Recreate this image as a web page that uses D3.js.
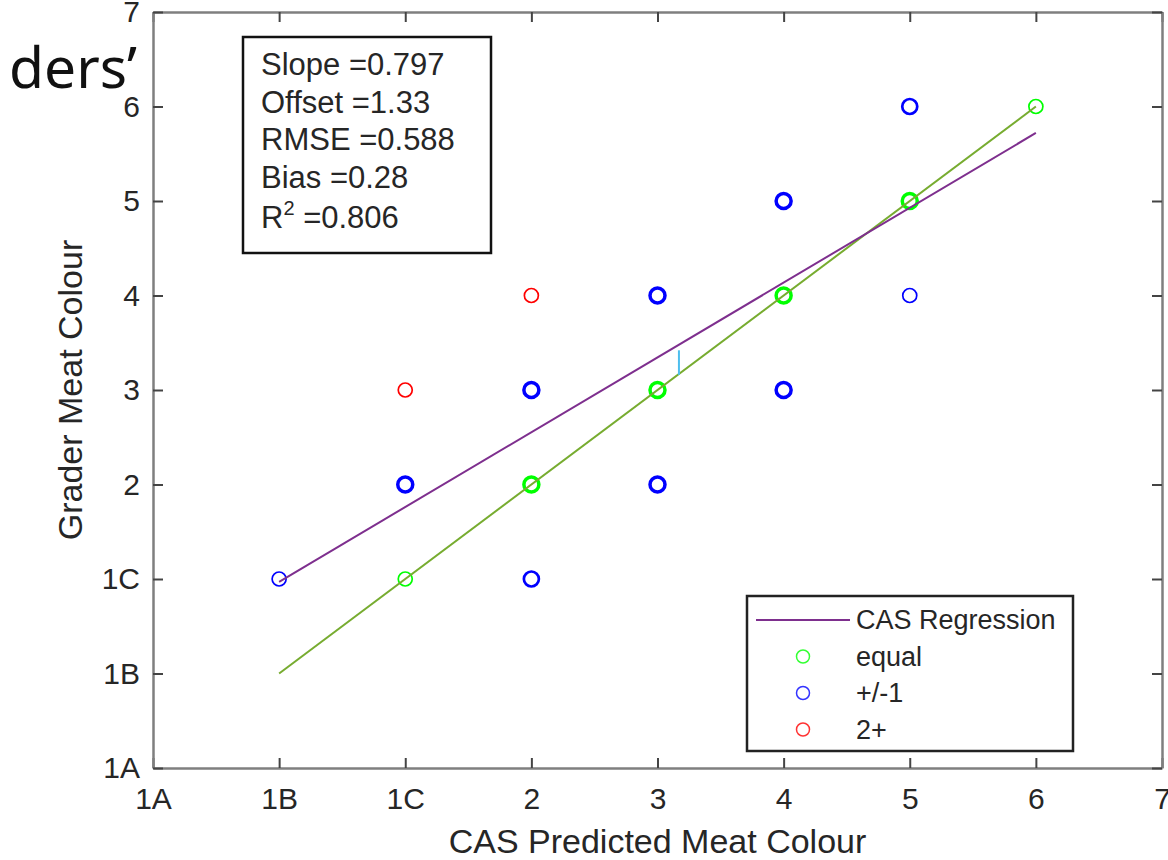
<!DOCTYPE html>
<html>
<head>
<meta charset="utf-8">
<script src="https://cdn.jsdelivr.net/npm/d3@7"></script>
<style>
    body { margin: 0; background: #fff; }
    svg { display: block; }
    text { font-family: "Liberation Sans", Arial, sans-serif; fill: #262626; }
</style>
</head>
<body>
<svg id="chart" width="1168" height="860"></svg>
<script>
// grade scale, shared by both axes
const grades = ['1A', '1B', '1C', '2', '3', '4', '5', '6', '7']

// [CAS predicted, grader, samples]  (samples > 1 = stacked markers)
const equalPoints = [
    ['1C', '1C', 1], ['2', '2', 3], ['3', '3', 3], ['4', '4', 3], ['5', '5', 3], ['6', '6', 1]
]
const offByOnePoints = [
    ['1B', '1C', 1], ['1C', '2', 3], ['2', '1C', 2], ['2', '3', 3], ['3', '2', 3],
    ['3', '4', 3], ['4', '3', 3], ['4', '5', 3], ['5', '4', 1], ['5', '6', 2]
]
const twoPlusPoints = [
    ['1C', '3', 1], ['2', '4', 1]
]

// regression fit drawn from 1B to 6 (grade index units)
const regressionX = [1, 7]
const regressionY = [1.97, 6.72]
// one-to-one reference line
const identityX = [1, 7]
const identityY = [1, 7]
// bias marker between the two lines
const biasX = [4.17, 4.17]
const biasY = [4.16, 4.42]

const stats = [
    ['Slope =0.797'], ['Offset =1.33'], ['RMSE =0.588'], ['Bias =0.28'], ['R', '2', ' =0.806']
]
const legendItems = [
    { label: 'CAS Regression', type: 'line', color: '#7e2f8e' },
    { label: 'equal', type: 'dot', color: '#00ff00' },
    { label: '+/-1', type: 'dot', color: '#0000ff' },
    { label: '2+', type: 'dot', color: '#ff0000' }
]

const plotLeft = 153, plotRight = 1162, plotTop = 12, plotBottom = 768
const svg = d3.select('#chart')

// slide title fragment behind the figure
svg.append('text')
    .attr('x', 9).attr('y', 88)
    .style('font-family', '"Noto Sans", "Open Sans", sans-serif')
    .style('font-size', '57px')
    .style('fill', '#111')
    .text('ders\u2019')

const x = d3.scaleLinear().domain([0, 8]).range([plotLeft, plotRight])
const y = d3.scaleLinear().domain([0, 8]).range([plotBottom, plotTop])
const gx = g => grades.indexOf(g)

// axes box with inward ticks on all sides
const axisColor = '#7f7f7f'
const fmt = i => grades[i]
const ticks = d3.range(0, 9)

svg.append('g')
    .attr('transform', `translate(0,${plotBottom})`)
    .call(d3.axisBottom(x).tickValues(ticks).tickFormat(fmt).tickSizeInner(-10).tickSizeOuter(0).tickPadding(20))
svg.append('g')
    .attr('transform', `translate(0,${plotTop})`)
    .call(d3.axisTop(x).tickValues(ticks).tickFormat('').tickSizeInner(-10).tickSizeOuter(0))
svg.append('g')
    .attr('transform', `translate(${plotLeft},0)`)
    .call(d3.axisLeft(y).tickValues(ticks).tickFormat(fmt).tickSizeInner(-10).tickSizeOuter(0).tickPadding(13))
svg.append('g')
    .attr('transform', `translate(${plotRight},0)`)
    .call(d3.axisRight(y).tickValues(ticks).tickFormat('').tickSizeInner(-10).tickSizeOuter(0))

svg.selectAll('.domain').attr('stroke', axisColor).attr('stroke-width', 2.5)
svg.selectAll('.tick line').attr('stroke', '#444').attr('stroke-width', 2)
svg.selectAll('.tick text').style('font-size', '30px').attr('fill', '#262626')

// axis titles
svg.append('text')
    .attr('x', (plotLeft + plotRight) / 2).attr('y', 853)
    .attr('text-anchor', 'middle')
    .style('font-size', '34px')
    .text('CAS Predicted Meat Colour')
svg.append('text')
    .attr('transform', `translate(82,${(plotTop + plotBottom) / 2}) rotate(-90)`)
    .attr('text-anchor', 'middle')
    .style('font-size', '34px')
    .text('Grader Meat Colour')

// markers
const plot = svg.append('g')
const drawPoints = (pts, color) => {
    plot.selectAll(null).data(pts).enter().append('circle')
        .attr('cx', d => x(gx(d[0])))
        .attr('cy', d => y(gx(d[1])))
        .attr('r', d => d[2] > 1 ? 7.5 : 7)
        .attr('fill', 'none')
        .attr('stroke', color)
        .attr('stroke-width', d => d[2] > 2 ? 3.5 : d[2] > 1 ? 2.7 : 1.7)
}
drawPoints(equalPoints, '#00ff00')
drawPoints(offByOnePoints, '#0000ff')
drawPoints(twoPlusPoints, '#ff0000')

// lines
const line = d3.line().x(d => x(d[0])).y(d => y(d[1]))
plot.append('path')
    .datum(d3.zip(identityX, identityY))
    .attr('d', line).attr('fill', 'none')
    .attr('stroke', '#77ac30').attr('stroke-width', 2)
plot.append('path')
    .datum(d3.zip(regressionX, regressionY))
    .attr('d', line).attr('fill', 'none')
    .attr('stroke', '#7e2f8e').attr('stroke-width', 2)
plot.append('path')
    .datum(d3.zip(biasX, biasY))
    .attr('d', line).attr('fill', 'none')
    .attr('stroke', '#4dbeee').attr('stroke-width', 2)

// stats box
svg.append('rect')
    .attr('x', 243).attr('y', 37).attr('width', 248).attr('height', 216)
    .attr('fill', '#fff').attr('stroke', '#111').attr('stroke-width', 2.5)
stats.forEach((parts, i) => {
    const t = svg.append('text')
        .attr('x', 261).attr('y', 75 + i * 37.5 + (i === 4 ? 3 : 0))
        .style('font-size', '31px')
    if (parts.length === 1) {
        t.text(parts[0])
    } else {
        t.append('tspan').text(parts[0])
        t.append('tspan').attr('dy', -13).style('font-size', '20px').text(parts[1])
        t.append('tspan').attr('dy', 13).text(parts[2])
    }
})

// legend
const lg = svg.append('g')
lg.append('rect')
    .attr('x', 747).attr('y', 596).attr('width', 326).attr('height', 155)
    .attr('fill', '#fff').attr('stroke', '#222').attr('stroke-width', 2.5)
legendItems.forEach((item, i) => {
    const cy = 620 + i * 36.5
    if (item.type === 'line') {
        lg.append('line')
            .attr('x1', 756).attr('x2', 850).attr('y1', cy).attr('y2', cy)
            .attr('stroke', item.color).attr('stroke-width', 2)
    } else {
        lg.append('circle')
            .attr('cx', 803).attr('cy', cy).attr('r', 6.5)
            .attr('fill', 'none').attr('stroke', item.color)
            .attr('stroke-width', 1.5).attr('opacity', 0.8)
    }
    lg.append('text')
        .attr('x', 856).attr('y', cy + 9)
        .style('font-size', '27px')
        .text(item.label)
})
</script>
</body>
</html>
